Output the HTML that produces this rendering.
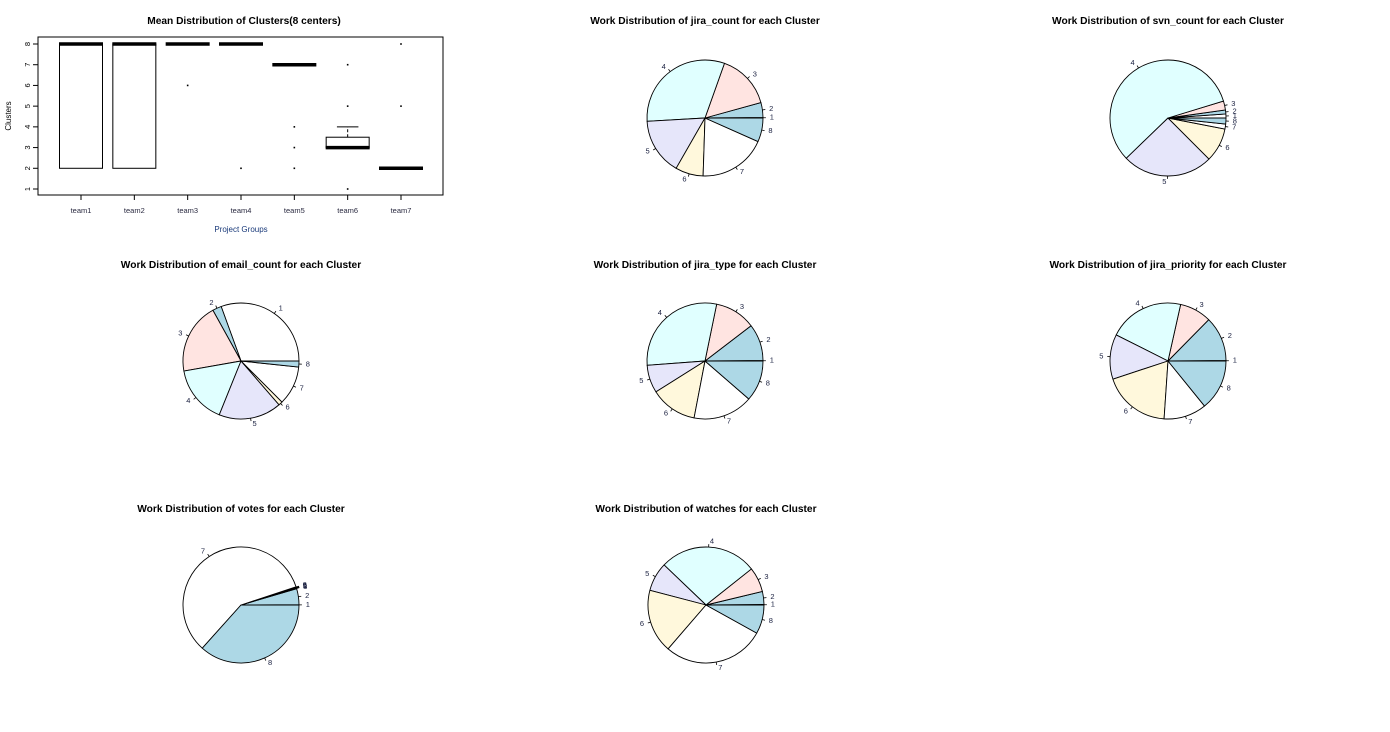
<!DOCTYPE html>
<html><head><meta charset="utf-8">
<style>
html,body{margin:0;padding:0;background:#fff;}
svg{display:block;font-family:"Liberation Sans",Arial,sans-serif;}
</style></head>
<body>
<svg id="chart" width="1390" height="732" viewBox="0 0 1390 732" xmlns="http://www.w3.org/2000/svg"></svg>
<script>
// ---- Box plot data ----
const teams = ["team1","team2","team3","team4","team5","team6","team7"];
const boxLow = [2,2,8,8,7,3,2];
const boxHigh = [8,8,8,8,7,3.5,2];
const boxMedian = [8,8,8,8,7,3,2];
const whiskerLow = [2,2,8,8,7,3,2];
const whiskerHigh = [8,8,8,8,7,4,2];
const outliers = [[],[],[6],[2],[4,3,2],[7,5,1],[8,5]];
const yTicks = [1,2,3,4,5,6,7,8];

// ---- Pie data (slice sizes, clusters 1..8) ----
const clusterLabels = ["1","2","3","4","5","6","7","8"];
const pieTitles = ["jira_count","svn_count","email_count","jira_type","jira_priority","votes","watches"];
const jiraCount = [0.5,15,55,113,57,28,68,24];
const svnCount = [4,4,9,207,91,34,5,6];
const emailCount = [110,9,71,58,63,4,39,6];
const jiraType = [0.5,37,41,106,28,47,60,41];
const jiraPriority = [0.5,45,32,76,45,68,43,51];
const votes = [0.3,16,0.5,0.5,0.5,0.5,210,132];
const watches = [0.5,13,25,98,29,64,102,29];

const svg = document.getElementById('chart');
const NS = "http://www.w3.org/2000/svg";
function mk(tag, attrs, parent){
  const e = document.createElementNS(NS, tag);
  for (const k in attrs) e.setAttribute(k, attrs[k]);
  (parent||svg).appendChild(e);
  return e;
}
function txt(x,y,s,size,anchor,parent,extra){
  const t = mk('text',{x:x,y:y,'font-size':size,'text-anchor':anchor||'middle',fill:'#000'},parent);
  if (extra) for (const k in extra) t.setAttribute(k, extra[k]);
  t.textContent = s;
  return t;
}

// ===== Box plot =====
const bp = mk('g',{});


const bt = txt(244,24,"Mean Distribution of Clusters(8 centers)",10.2,'middle',bp,{'font-weight':'bold'});


const X0=38, X1=443, Y0=37, Y1=195;
const frame = mk('rect',{x:X0,y:Y0,width:X1-X0,height:Y1-Y0,fill:'none',stroke:'#000','stroke-width':1},bp);


function yS(v){ return 44 + (8 - v) * (189 - 44) / 7; }
function xS(i){ return 81 + i * (401 - 81) / 6; }
yTicks.forEach(v=>{
  const tk = mk('line',{x1:33,x2:X0,y1:yS(v),y2:yS(v),stroke:'#000'},bp);
  
  
  const tl = txt(0,0,String(v),7.5,'middle',bp,{transform:`translate(28,${yS(v)}) rotate(-90)`,'dominant-baseline':'middle'});
  
  
});
const yl = txt(0,0,"Clusters",8,'middle',bp,{transform:`translate(9,116) rotate(-90)`,'dominant-baseline':'middle'});


const xl = txt(241,232,"Project Groups",8,'middle',bp,{fill:'#1a3a7a'});


teams.forEach((tm,i)=>{
  const cx = xS(i), hw = 21.5;
  const tk = mk('line',{x1:cx,x2:cx,y1:Y1,y2:Y1+5,stroke:'#000'},bp);
  
  
  const tl = txt(cx,213,tm,7.5,'middle',bp,{fill:'#2a2a40'});
  
  
  const g = mk('g',{},bp);
  
  
  if (whiskerHigh[i] > boxHigh[i]) {
    mk('line',{x1:cx,x2:cx,y1:yS(boxHigh[i]),y2:yS(whiskerHigh[i]),stroke:'#000','stroke-dasharray':'3,2'},g);
    mk('line',{x1:cx-hw/2,x2:cx+hw/2,y1:yS(whiskerHigh[i]),y2:yS(whiskerHigh[i]),stroke:'#000'},g);
  }
  if (whiskerLow[i] < boxLow[i]) {
    mk('line',{x1:cx,x2:cx,y1:yS(boxLow[i]),y2:yS(whiskerLow[i]),stroke:'#000','stroke-dasharray':'3,2'},g);
    mk('line',{x1:cx-hw/2,x2:cx+hw/2,y1:yS(whiskerLow[i]),y2:yS(whiskerLow[i]),stroke:'#000'},g);
  }
  mk('rect',{x:cx-hw,y:yS(boxHigh[i]),width:hw*2,height:Math.max(0,yS(boxLow[i])-yS(boxHigh[i])),fill:'none',stroke:'#000','stroke-width':1},g);
  mk('line',{x1:cx-hw-0.5,x2:cx+hw+0.5,y1:yS(boxMedian[i]),y2:yS(boxMedian[i]),stroke:'#000','stroke-width':3.5},g);
  outliers[i].forEach(v=>{
    const o = mk('rect',{x:cx-0.8,y:yS(v)-0.8,width:1.6,height:1.6,fill:'#000'},g);
    
    
  });
});

// ===== Pies =====
const pieData = [jiraCount,svnCount,emailCount,jiraType,jiraPriority,votes,watches];
const pieCenters = [[705,118],[1168,118],[241,361],[705,361],[1168,361],[241,605],[706,605]];
const titleY = [24,24,268,268,268,512,512];
const pieColors = ["#ffffff","#add8e6","#ffe4e1","#e0ffff","#e6e6fa","#fff8dc"];
const R = 58;
pieData.forEach((vals,p)=>{
  const [cx,cy] = pieCenters[p];
  const g = mk('g',{});
  
  
  const t = txt(cx,titleY[p],"Work Distribution of "+pieTitles[p]+" for each Cluster",10.2,'middle',g,{'font-weight':'bold'});
  
  
  const total = vals.reduce((a,b)=>a+b,0);
  let a0 = 0;
  vals.forEach((v,i)=>{
    const a1 = a0 + v/total*2*Math.PI;
    const x0 = cx + R*Math.cos(a0), y0 = cy - R*Math.sin(a0);
    const x1 = cx + R*Math.cos(a1), y1 = cy - R*Math.sin(a1);
    const large = (a1-a0) > Math.PI ? 1 : 0;
    const s = mk('path',{d:`M${cx},${cy} L${x0},${y0} A${R},${R} 0 ${large} 0 ${x1},${y1} Z`,fill:pieColors[i%6],stroke:'#000','stroke-width':0.9,'stroke-linejoin':'round'},g);
    
    
    const am = (a0+a1)/2, c = Math.cos(am), sn = Math.sin(am);
    mk('line',{x1:cx+R*c,y1:cy-R*sn,x2:cx+R*1.05*c,y2:cy-R*1.05*sn,stroke:'#000','stroke-width':0.8},g);
    const lx = cx + R*1.1*c, ly = cy - R*1.1*sn;
    const lb = txt(lx + (c>0?1:-1), ly, clusterLabels[i], 7.5, c>0?'start':'end', g, {'dominant-baseline':'middle',fill:'#1a2040'});
    
    
    a0 = a1;
  });
});
</script>
</body></html>
